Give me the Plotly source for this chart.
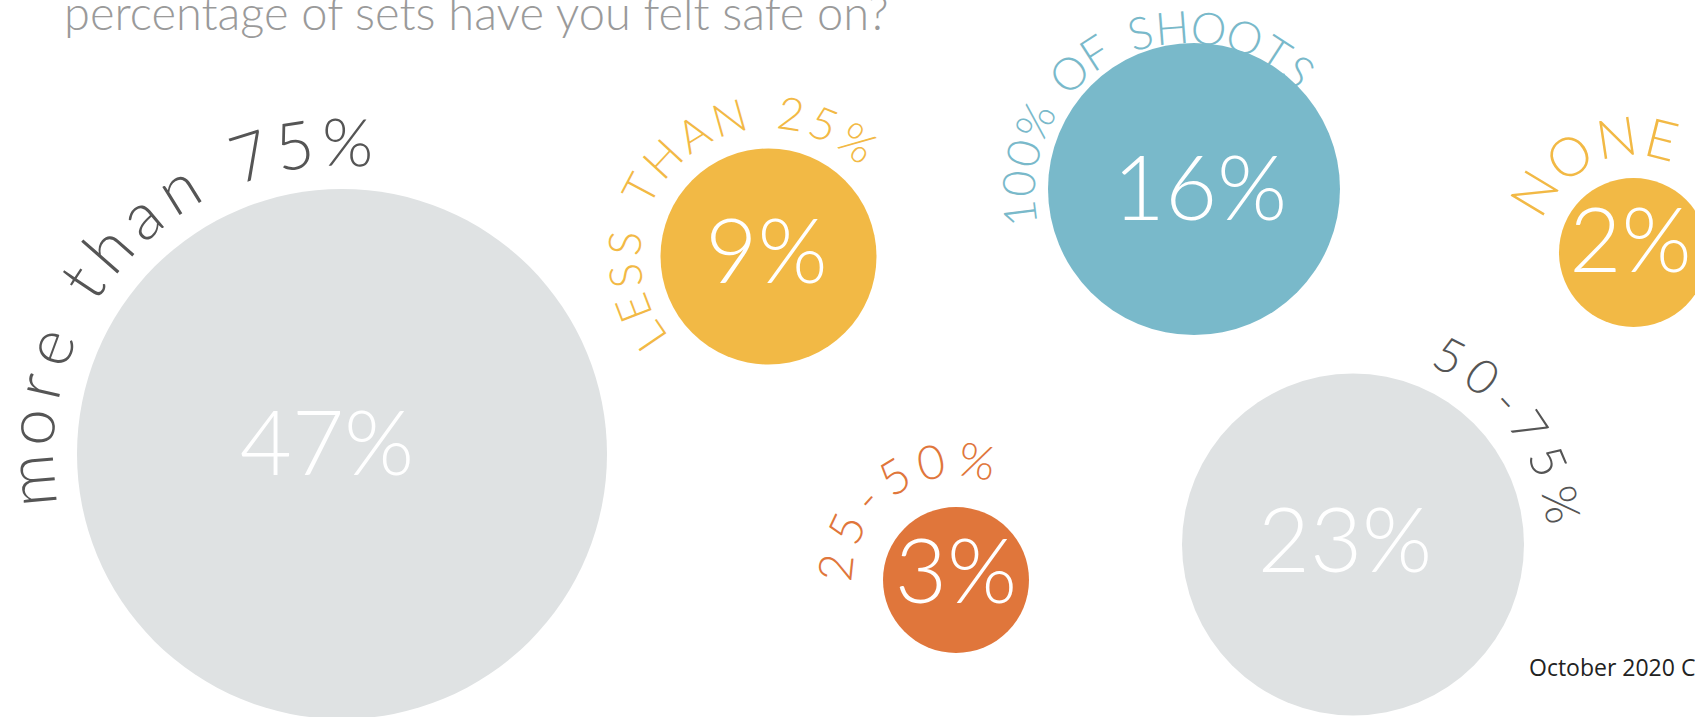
import math
import plotly.graph_objects as go

W, H = 1695, 717

# ---- data ----
categories = ["more than 75%", "LESS THAN 25%", "100% OF SHOOTS", "NONE", "25-50%", "50-75%"]
values = [47, 9, 16, 2, 3, 23]
value_labels = [f"{v}%" for v in values]
title_text = "percentage of sets have you felt safe on?"
footer_text = "October 2020 Crew Survey"

# ---- layout (positions / sizes / styles, in pixels) ----
center_x = [342, 768.5, 1194, 1633.5, 956, 1353]
center_y = [454, 256.5, 189, 252.5, 580, 544.5]
radius = [265, 108, 146, 74.5, 73, 171]
value_dx = [-15, -2, 6, -3, 0, -8]
value_dy = [-2, 4, 8, -3, 0, 5]
fill_colors = ["#dfe2e3", "#f2b945", "#79b9ca", "#f2b945", "#e0763b", "#dfe2e3"]
label_colors = ["#555555", "#f2b945", "#79b9ca", "#f2b945", "#e0763b", "#555555"]
label_cx = [342, 768.5, 1185, 1633.5, 956, 1353]
label_cy = [454, 256.5, 193, 252.5, 580, 544.5]
label_radius = [314, 145, 167, 117, 122, 213]
label_start = [185, 214, 187, 149, 174, 63]
label_end = [89, 52, 47, 76, 80, 11]
label_size = [66, 45, 45, 54, 47, 48]

FONT = "Lato"

ADV = {
    'm': 0.85, 't': 0.36, 'r': 0.38, ' ': 0.3, '%': 0.8, '-': 0.35,
    'L': 0.5, 'E': 0.55, 'S': 0.52, 'T': 0.56, 'H': 0.72, 'A': 0.66,
    'N': 0.74, 'O': 0.78, 'F': 0.52, 'I': 0.3,
}


def adv(c):
    return ADV.get(c, 0.56)


fig = go.Figure()
fig.add_trace(go.Scatter(
    x=center_x, y=center_y, mode="markers",
    marker=dict(size=[2 * r for r in radius], color=fill_colors,
                line=dict(width=0), opacity=1),
    hoverinfo="skip", cliponaxis=False, showlegend=False,
))
fig.add_trace(go.Scatter(
    x=[cx + d for cx, d in zip(center_x, value_dx)],
    y=[cy + d for cy, d in zip(center_y, value_dy)],
    mode="text", text=value_labels, textposition="middle center",
    textfont=dict(family=FONT, size=90, color="white", weight=300),
    hoverinfo="skip", cliponaxis=False, showlegend=False,
))

annotations = []
track = 0.3
for i, label in enumerate(categories):
    chars = list(label)
    ws = [adv(c) + track for c in chars]
    pos = []
    acc = 0
    for w in ws:
        pos.append(acc + w / 2)
        acc += w
    span = pos[-1] - pos[0]
    s = label_size[i]
    R = label_radius[i]
    for c, p in zip(chars, pos):
        if c == ' ':
            continue
        t = (p - pos[0]) / span
        th = label_start[i] + (label_end[i] - label_start[i]) * t
        rad = math.radians(th)
        x = label_cx[i] + R * math.cos(rad)
        y = label_cy[i] - R * math.sin(rad)
        annotations.append(dict(
            x=x, y=y, xref="x", yref="y", text=c, showarrow=False,
            textangle=90 - th, xanchor="center", yanchor="middle",
            font=dict(family=FONT, size=s, color=label_colors[i], weight=300),
        ))

annotations.append(dict(
    x=62, y=42, xref="x", yref="y", text=title_text, showarrow=False,
    xanchor="left", yanchor="bottom",
    font=dict(family=FONT, size=47, color="#9a9a9a", weight=300),
))
annotations.append(dict(
    x=1527, y=667, xref="x", yref="y", text=footer_text, showarrow=False,
    xanchor="left", yanchor="middle",
    font=dict(family="Open Sans", size=23, color="#222222", weight=400),
))

fig.update_layout(
    width=W, height=H,
    margin=dict(l=0, r=0, t=0, b=0),
    paper_bgcolor="white", plot_bgcolor="white",
    xaxis=dict(range=[0, W], visible=False, fixedrange=True),
    yaxis=dict(range=[H, 0], visible=False, fixedrange=True),
    annotations=annotations,
    showlegend=False,
)

fig.write_html(
    "out.html",
    config={"displayModeBar": False},
    post_script="document.body.style.margin='0';document.body.style.overflow='hidden';",
)
